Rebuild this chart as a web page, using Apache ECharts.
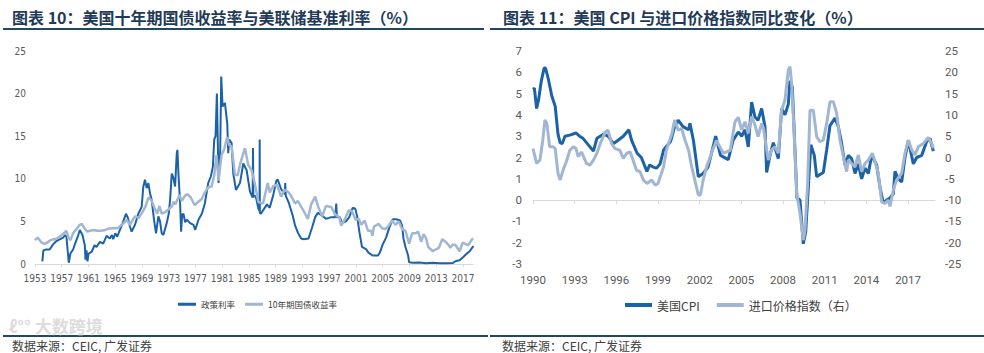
<!DOCTYPE html>
<html>
<head>
<meta charset="utf-8">
<script src="https://cdn.jsdelivr.net/npm/echarts@6/dist/echarts.min.js"></script>
<style>
html,body{margin:0;padding:0;background:#fff;}
#c{width:984px;height:353px;}
</style>
</head>
<body>
<div id="c"></div>
<script>
// ---------- data (year, value) ----------
const LEFT_BASE = 1953;
const RIGHT_BASE = 1990;
const leftTickYears = [1953,1957,1961,1965,1969,1973,1977,1981,1985,1989,1993,1997,2001,2005,2009,2013,2017];
const rightTickYears = [1990,1993,1996,1999,2002,2005,2008,2011,2014,2017];

const policyRate = [
[1954.1,0.3],[1954.25,1.6],[1954.7,1.7],[1955.2,1.7],[1955.7,2.3],[1956.2,2.7],[1956.7,2.9],[1957.2,3.1],[1957.5,3.4],[1957.7,3.2],
[1958.05,0.15],[1958.3,1.25],[1958.7,1.7],[1959.0,2.4],[1959.4,3.2],[1959.7,4.0],[1960.1,3.4],[1960.45,2.2],[1960.55,0.5],[1960.7,1.6],
[1960.85,0.3],[1961.0,1.2],[1961.5,1.45],[1961.9,2.2],[1962.2,2.0],[1962.7,2.6],[1963.2,2.4],[1963.7,3.3],[1964.2,3.0],[1964.5,3.4],
[1964.7,2.9],[1965.0,3.6],[1965.3,3.2],[1965.7,4.0],[1966.2,5.0],[1966.6,5.9],[1966.9,5.4],[1967.2,4.4],[1967.45,3.8],[1967.95,4.6],
[1968.45,5.9],[1968.95,6.7],[1969.2,9.1],[1969.45,9.9],[1969.7,8.9],[1969.95,9.5],[1970.2,8.3],[1970.45,7.5],[1970.8,5.2],[1971.1,3.6],
[1971.45,5.6],[1971.7,5.0],[1971.95,3.6],[1972.2,3.4],[1972.7,4.8],[1973.0,5.9],[1973.2,7.5],[1973.45,10.6],[1973.7,10.1],[1973.95,9.1],
[1974.2,13.0],[1974.3,13.4],[1974.45,10.6],[1974.7,7.1],[1974.85,3.8],[1975.0,5.8],[1975.2,5.9],[1975.45,4.9],[1975.7,5.2],[1976.2,4.8],
[1976.7,4.6],[1976.95,4.0],[1977.45,5.2],[1977.95,5.9],[1978.4,7.1],[1978.9,9.5],[1979.3,10.3],[1979.6,11.4],[1979.8,14.6],[1980.0,15.0],
[1980.2,20.0],[1980.45,9.5],[1980.7,13.4],[1980.85,22.0],[1981.05,18.5],[1981.4,18.9],[1981.75,16.5],[1981.9,13.0],[1982.05,14.6],[1982.4,14.2],
[1982.65,10.6],[1983.05,8.7],[1983.65,9.5],[1984.15,11.8],[1984.65,11.0],[1985.15,8.5],[1985.55,7.8],[1985.6,13.6],[1985.65,7.9],[1986.0,8.0],
[1986.4,6.5],[1986.58,6.2],[1986.6,14.6],[1986.63,6.0],[1986.8,5.9],[1987.1,6.3],[1987.7,7.0],[1988.1,6.6],[1988.6,8.0],[1989.1,9.8],
[1989.3,9.9],[1989.8,8.8],[1990.35,8.2],[1990.42,9.5],[1990.5,8.0],[1990.9,7.3],[1991.5,5.8],[1991.9,4.5],[1992.3,3.7],[1992.8,3.0],
[1993.2,2.9],[1993.9,3.0],[1994.4,4.2],[1994.9,5.5],[1995.3,6.0],[1995.9,5.7],[1996.5,5.3],[1997.3,5.5],[1997.9,5.5],[1998.05,7.1],
[1998.15,5.5],[1998.6,5.5],[1998.9,4.8],[1999.5,5.0],[2000.0,5.5],[2000.5,6.6],[2000.9,6.5],[2001.2,5.5],[2001.5,3.8],[2001.9,2.0],
[2002.5,1.75],[2002.9,1.3],[2003.5,1.0],[2004.3,1.0],[2004.6,1.4],[2005.0,2.3],[2005.5,3.1],[2006.0,4.3],[2006.5,5.25],[2007.0,5.25],
[2007.6,5.1],[2007.9,4.5],[2008.1,3.0],[2008.4,2.0],[2008.8,1.0],[2008.95,0.2],[2009.5,0.15],[2010.5,0.18],[2011.5,0.08],[2012.5,0.15],
[2013.5,0.1],[2014.5,0.09],[2015.5,0.13],[2015.95,0.35],[2016.5,0.45],[2017.0,0.8],[2017.55,1.2],[2018.0,1.5],[2018.55,2.1]
];

const treasury10y = [
[1953.0,2.8],[1953.4,3.1],[1953.6,2.9],[1954.0,2.5],[1954.4,2.35],[1954.8,2.5],[1955.3,2.8],[1955.8,2.9],[1956.3,3.0],[1956.8,3.3],
[1957.3,3.6],[1957.7,3.9],[1958.0,3.1],[1958.3,2.8],[1958.7,3.6],[1959.2,4.1],[1959.7,4.6],[1960.0,4.7],[1960.4,4.2],[1960.8,3.8],
[1961.2,3.9],[1961.8,4.0],[1962.3,3.9],[1962.9,3.9],[1963.5,4.0],[1964.0,4.15],[1964.5,4.2],[1965.0,4.2],[1965.5,4.25],[1965.9,4.6],
[1966.3,4.8],[1966.7,5.2],[1967.2,4.6],[1967.7,5.3],[1968.0,5.6],[1968.5,5.4],[1969.0,6.0],[1969.5,6.7],[1969.95,7.8],[1970.4,7.5],
[1970.9,6.5],[1971.3,5.9],[1971.6,6.8],[1971.95,5.9],[1972.5,6.1],[1972.95,6.4],[1973.5,6.8],[1973.75,7.3],[1974.0,7.0],[1974.6,8.1],
[1974.95,7.4],[1975.4,8.0],[1975.8,8.2],[1976.3,7.8],[1976.9,6.9],[1977.4,7.3],[1977.9,7.6],[1978.4,8.4],[1978.9,9.0],[1979.4,9.1],
[1979.8,10.4],[1980.15,12.8],[1980.45,9.8],[1980.9,12.8],[1981.3,13.5],[1981.75,14.9],[1982.0,14.0],[1982.4,13.8],[1982.9,10.5],[1983.3,10.4],
[1983.7,11.8],[1984.4,13.6],[1984.9,11.6],[1985.4,11.0],[1985.9,9.3],[1986.4,7.3],[1986.7,7.2],[1987.1,7.1],[1987.8,9.5],[1988.1,8.4],
[1988.6,9.1],[1989.2,9.3],[1989.8,7.9],[1990.3,8.7],[1990.8,8.5],[1991.3,8.0],[1991.9,7.1],[1992.3,7.4],[1992.9,6.6],[1993.4,5.9],
[1993.8,5.3],[1994.3,7.0],[1994.9,7.9],[1995.4,6.6],[1995.95,5.6],[1996.5,6.8],[1997.3,6.7],[1997.9,5.8],[1998.5,5.5],[1998.8,4.5],
[1999.3,5.2],[1999.95,6.3],[2000.4,6.2],[2000.95,5.2],[2001.4,5.3],[2001.8,4.6],[2002.3,5.1],[2002.8,3.9],[2003.3,3.9],[2003.45,3.3],
[2003.7,4.4],[2004.4,4.7],[2004.9,4.2],[2005.4,4.1],[2005.9,4.5],[2006.4,5.1],[2006.9,4.6],[2007.4,5.0],[2007.9,4.1],[2008.4,3.9],
[2008.95,2.4],[2009.4,3.6],[2009.95,3.6],[2010.3,3.8],[2010.75,2.6],[2011.1,3.5],[2011.5,3.0],[2011.8,2.0],[2012.5,1.5],[2012.9,1.7],
[2013.4,1.9],[2013.9,2.9],[2014.4,2.6],[2014.9,2.2],[2015.1,1.9],[2015.5,2.3],[2015.9,2.2],[2016.5,1.5],[2016.95,2.5],[2017.5,2.3],
[2017.7,2.2],[2017.95,2.4],[2018.35,2.9],[2018.55,3.0]
];

const usCPI = [
[1990.0,5.2],[1990.1,5.25],[1990.26,4.3],[1990.4,4.7],[1990.6,5.6],[1990.8,6.2],[1990.9,6.2],[1991.1,5.7],[1991.35,4.9],[1991.6,4.4],
[1991.8,3.1],[1991.95,2.7],[1992.1,2.65],[1992.3,3.0],[1992.65,3.05],[1993.1,3.15],[1993.35,3.0],[1993.6,2.9],[1994.1,2.5],[1994.35,2.3],
[1994.6,2.9],[1995.1,3.1],[1995.4,3.0],[1995.8,2.65],[1996.1,2.8],[1996.5,3.0],[1996.9,3.3],[1997.1,2.8],[1997.5,2.2],[1997.8,2.0],
[1998.2,1.35],[1998.4,1.65],[1998.65,1.55],[1998.9,1.5],[1999.15,1.7],[1999.4,2.35],[1999.9,2.75],[2000.2,3.45],[2000.45,3.75],[2000.8,3.45],
[2001.2,3.3],[2001.3,3.6],[2001.55,2.8],[2001.9,1.1],[2002.25,1.25],[2002.6,1.55],[2002.85,2.2],[2003.15,3.0],[2003.5,2.1],[2004.06,1.9],
[2004.4,2.8],[2004.78,3.2],[2005.02,3.0],[2005.26,3.3],[2005.5,2.5],[2005.74,4.6],[2005.98,3.9],[2006.2,3.75],[2006.46,4.3],[2006.7,3.45],
[2006.82,1.3],[2007.06,2.1],[2007.3,2.7],[2007.66,1.95],[2007.9,4.3],[2008.14,4.0],[2008.38,4.5],[2008.5,5.6],[2008.67,5.3],[2008.86,2.35],
[2009.0,0.1],[2009.22,0.0],[2009.46,-2.05],[2009.63,-1.5],[2009.82,0.6],[2010.0,2.6],[2010.25,2.1],[2010.42,1.1],[2010.66,1.2],[2010.9,1.3],
[2011.14,2.35],[2011.38,3.5],[2011.74,3.85],[2011.98,3.45],[2012.22,2.65],[2012.46,1.65],[2012.7,2.1],[2012.94,1.95],[2013.18,1.25],[2013.42,1.7],
[2013.66,1.0],[2013.9,1.5],[2014.14,1.25],[2014.38,2.1],[2014.74,1.65],[2014.98,0.6],[2015.22,-0.15],[2015.46,0.0],[2015.7,0.1],[2015.94,0.3],
[2016.06,1.35],[2016.3,1.0],[2016.54,0.85],[2016.78,2.0],[2017.02,2.8],[2017.38,1.7],[2017.62,2.0],[2017.98,2.1],[2018.34,2.75],[2018.58,2.9],
[2018.82,2.3]
];

const importPrice = [
[1990.0,2.1],[1990.26,-1.4],[1990.5,-0.6],[1990.7,4.0],[1990.86,8.8],[1991.0,8.0],[1991.2,2.5],[1991.45,2.5],[1991.6,2.1],[1991.8,-3.7],
[1991.95,-5.3],[1992.2,-2.6],[1992.4,-1.0],[1992.65,1.7],[1992.9,2.5],[1993.1,2.1],[1993.25,0.2],[1993.5,1.3],[1993.85,-1.4],[1994.1,-1.8],
[1994.35,-0.6],[1994.6,1.0],[1994.85,3.3],[1995.2,6.0],[1995.4,6.4],[1995.65,3.3],[1995.9,2.1],[1996.25,1.7],[1996.5,-0.2],[1996.75,1.0],
[1997.0,1.3],[1997.2,-0.6],[1997.45,-3.0],[1997.7,-3.3],[1997.95,-5.3],[1998.2,-6.1],[1998.55,-5.3],[1998.8,-6.5],[1999.0,-6.1],[1999.4,-2.2],
[1999.6,1.7],[2000.0,5.6],[2000.2,8.8],[2000.45,6.4],[2000.7,6.8],[2000.95,4.0],[2001.2,1.7],[2001.4,-1.8],[2001.65,-5.3],[2001.9,-8.8],
[2002.05,-8.8],[2002.25,-5.3],[2002.5,-2.2],[2002.85,1.0],[2003.2,4.0],[2003.7,1.0],[2004.2,1.7],[2004.54,8.4],[2004.78,9.4],[2005.02,6.5],
[2005.26,8.4],[2005.5,5.7],[2005.74,9.6],[2005.98,7.6],[2006.2,4.9],[2006.46,8.0],[2006.6,6.8],[2006.82,1.8],[2006.94,-0.6],[2007.18,1.8],
[2007.42,2.5],[2007.66,1.0],[2007.9,11.1],[2008.14,13.5],[2008.38,20.5],[2008.5,21.3],[2008.62,17.4],[2008.8,5.7],[2008.98,-8.4],[2009.22,-13.1],
[2009.46,-19.4],[2009.58,-17.0],[2009.77,-6.1],[2009.94,11.1],[2010.18,11.1],[2010.42,4.9],[2010.66,3.7],[2010.9,4.1],[2011.14,8.0],[2011.38,13.1],
[2011.62,13.1],[2011.86,10.4],[2012.1,4.1],[2012.34,0.2],[2012.58,-3.3],[2012.7,-0.6],[2012.94,-1.4],[2013.18,-2.2],[2013.42,0.6],[2013.66,-3.3],
[2013.9,-1.4],[2014.14,-0.6],[2014.43,1.0],[2014.62,-1.0],[2014.86,-3.7],[2015.1,-10.4],[2015.34,-10.8],[2015.58,-10.0],[2015.7,-11.5],[2015.94,-7.6],
[2016.18,-5.3],[2016.54,-3.7],[2016.78,1.0],[2017.02,4.1],[2017.26,1.8],[2017.5,0.6],[2017.74,2.5],[2018.1,3.3],[2018.46,4.7],[2018.7,3.3],
[2018.82,2.2]
];

// ---------- styles ----------
const DARK = '#1c62a7';
const LIGHT = '#a1b6d3';
const AXIS_GREY = '#d9d9d9';
const LABEL_GREY = '#595959';
const NARROW = "'Liberation Sans Narrow','DejaVu Sans Condensed',sans-serif";
const CJK = "'Noto Sans CJK SC','Noto Sans',sans-serif";

const shift = (arr, base) => arr.map(p => [p[0] - base, p[1]]);

const chart = echarts.init(document.getElementById('c'), null, {renderer: 'svg'});

const titleStyle = {fontFamily: CJK, fontSize: 16, fontWeight: 'bold', color: '#1f3b57', lineHeight: 18};
const srcStyle = {fontFamily: CJK, fontSize: 12, fontWeight: 'normal', color: '#404040', lineHeight: 14};

const option = {
  animation: false,
  backgroundColor: '#fff',
  title: [
    {text: '图表 10：美国十年期国债收益率与美联储基准利率（%）', left: 12, top: 8, padding: 0, textStyle: titleStyle},
    {text: '图表 11：美国 CPI 与进口价格指数同比变化（%）', left: 503, top: 8, padding: 0, textStyle: titleStyle},
    {text: '数据来源：CEIC, 广发证券', left: 12, top: 338, padding: 0, textStyle: srcStyle},
    {text: '数据来源：CEIC, 广发证券', left: 502, top: 338, padding: 0, textStyle: srcStyle}
  ],
  graphic: [
    {type: 'line', shape: {x1: 3, y1: 29, x2: 484, y2: 29}, style: {stroke: '#23485c', lineWidth: 2}},
    {type: 'line', shape: {x1: 490, y1: 29, x2: 984, y2: 29}, style: {stroke: '#23485c', lineWidth: 2}},
    {type: 'line', shape: {x1: 3, y1: 336, x2: 488, y2: 336}, style: {stroke: '#23485c', lineWidth: 2}},
    {type: 'line', shape: {x1: 490, y1: 336, x2: 984, y2: 336}, style: {stroke: '#23485c', lineWidth: 2}},
    {type: 'text', left: 8, top: 316, z: 10,
     style: {text: 'ℓ°° 大数跨境', fontFamily: CJK, fontSize: 17, fontWeight: 'bold', fill: 'rgba(190,190,190,0.55)',
             stroke: 'rgba(255,255,255,0.6)', lineWidth: 1}}
  ],
  legend: [
    {left: 178, top: 300, itemWidth: 18, itemHeight: 3, itemGap: 10, icon: 'rect', padding: 0,
     data: ['政策利率', '10年期国债收益率'],
     textStyle: {fontFamily: CJK, fontSize: 8.5, color: '#404040'}},
    {left: 625, top: 299, itemWidth: 27, itemHeight: 4, itemGap: 17, icon: 'rect', padding: 0,
     data: ['美国CPI', '进口价格指数（右）'],
     textStyle: {fontFamily: CJK, fontSize: 12, color: '#404040'}}
  ],
  grid: [
    {left: 35, top: 51, width: 438, height: 213},
    {left: 533, top: 51, width: 402, height: 213}
  ],
  xAxis: [
    {gridIndex: 0, type: 'value', min: 0, max: 65.5,
     axisLine: {show: true, onZero: false, lineStyle: {color: AXIS_GREY}},
     axisTick: {show: true, length: 3, lineStyle: {color: AXIS_GREY},
                customValues: leftTickYears.map(y => y - LEFT_BASE)},
     axisLabel: {margin: 9, color: LABEL_GREY, fontFamily: NARROW, fontSize: 10,
                 customValues: leftTickYears.map(y => y - LEFT_BASE),
                 formatter: v => String(Math.round(v + LEFT_BASE))},
     splitLine: {show: false}},
    {gridIndex: 1, type: 'value', min: 0, max: 28.94, position: 'top',
     axisLine: {show: true, onZero: true, onZeroAxisIndex: 1, lineStyle: {color: AXIS_GREY}},
     axisTick: {show: true, inside: true, length: 4, lineStyle: {color: AXIS_GREY},
                customValues: rightTickYears.map(y => y - RIGHT_BASE)},
     axisLabel: {show: false},
     splitLine: {show: false}},
    {gridIndex: 1, type: 'value', min: 0, max: 28.94, position: 'bottom',
     axisLine: {show: false, onZero: false},
     axisTick: {show: false},
     axisLabel: {margin: 10, color: LABEL_GREY, fontFamily: 'Roboto', fontSize: 11.5,
                 customValues: rightTickYears.map(y => y - RIGHT_BASE),
                 formatter: v => String(Math.round(v + RIGHT_BASE))},
     splitLine: {show: false}}
  ],
  yAxis: [
    {gridIndex: 0, type: 'value', min: 0, max: 25, interval: 5,
     axisLine: {show: false, onZero: false}, axisTick: {show: false}, splitLine: {show: false},
     axisLabel: {margin: 9, color: LABEL_GREY, fontFamily: NARROW, fontSize: 10}},
    {gridIndex: 1, type: 'value', min: -3, max: 7, interval: 1, position: 'left',
     axisLine: {show: false, onZero: false}, axisTick: {show: false}, splitLine: {show: false},
     axisLabel: {margin: 11, color: LABEL_GREY, fontFamily: 'Roboto', fontSize: 11.5}},
    {gridIndex: 1, type: 'value', min: -25, max: 25, interval: 5, position: 'right',
     axisLine: {show: false, onZero: false}, axisTick: {show: false}, splitLine: {show: false},
     axisLabel: {margin: 10, color: LABEL_GREY, fontFamily: 'Roboto', fontSize: 11.5}}
  ],
  series: [
    {name: '政策利率', type: 'line', xAxisIndex: 0, yAxisIndex: 0, showSymbol: false, symbol: 'none',
     data: shift(policyRate, LEFT_BASE), itemStyle: {color: DARK}, lineStyle: {color: DARK, width: 2}},
    {name: '10年期国债收益率', type: 'line', xAxisIndex: 0, yAxisIndex: 0, showSymbol: false, symbol: 'none',
     data: shift(treasury10y, LEFT_BASE), itemStyle: {color: LIGHT}, lineStyle: {color: LIGHT, width: 2.5}},
    {name: '美国CPI', type: 'line', xAxisIndex: 1, yAxisIndex: 1, showSymbol: false, symbol: 'none',
     data: shift(usCPI, RIGHT_BASE), itemStyle: {color: DARK}, lineStyle: {color: DARK, width: 3}},
    {name: '进口价格指数（右）', type: 'line', xAxisIndex: 1, yAxisIndex: 2, showSymbol: false, symbol: 'none',
     data: shift(importPrice, RIGHT_BASE), itemStyle: {color: LIGHT}, lineStyle: {color: LIGHT, width: 3}}
  ]
};
chart.setOption(option);
</script>
</body>
</html>
